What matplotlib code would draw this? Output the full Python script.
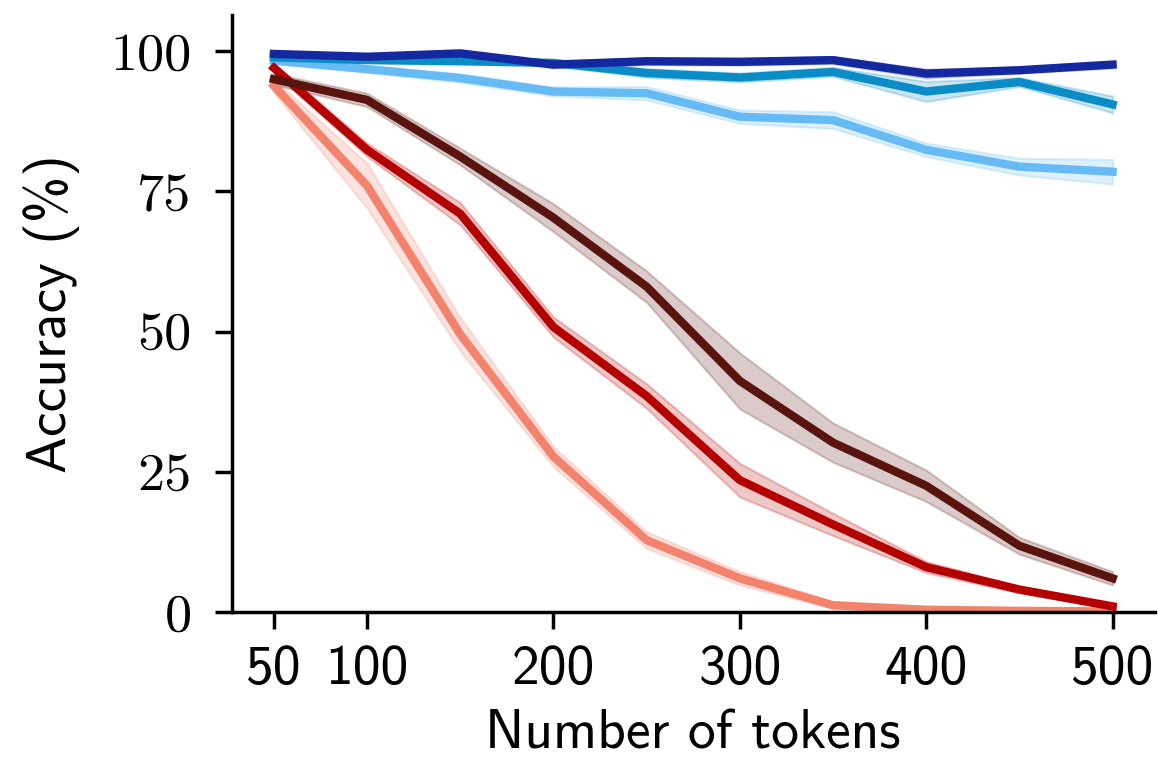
import os
import matplotlib
matplotlib.use("Agg")
import matplotlib.pyplot as plt
from matplotlib.font_manager import FontProperties
import numpy as np

fontdir = os.path.join(matplotlib.get_data_path(), 'fonts', 'ttf')
sans = os.path.join(fontdir, 'cmss10.ttf')
serif = os.path.join(fontdir, 'cmr10.ttf')

tokens = [50, 100, 150, 200, 250, 300, 350, 400, 450, 500]

dark_blue = [99.5, 99.0, 99.6, 97.6, 98.2, 98.1, 98.4, 96.0, 96.6, 97.6]
dark_blue_err = [0.5, 0.4, 0.5, 0.6, 0.6, 0.6, 0.6, 0.8, 0.5, 0.6]
mid_blue = [98.9, 98.4, 98.2, 97.9, 96.1, 95.3, 96.3, 92.8, 94.5, 90.5]
mid_blue_err = [0.4, 0.4, 0.5, 0.5, 0.8, 0.8, 0.8, 1.8, 0.8, 1.5]
light_blue = [98.3, 96.8, 95.2, 92.8, 92.5, 88.3, 87.7, 82.4, 79.4, 78.5]
light_blue_err = [0.5, 0.6, 0.8, 0.8, 1.2, 1.2, 1.5, 1.2, 1.5, 2.2]
brown = [95.0, 91.3, 81.2, 70.3, 58.0, 41.2, 30.2, 22.5, 11.8, 6.0]
brown_err = [1.0, 1.2, 1.5, 2.5, 2.8, 5.0, 3.5, 2.8, 1.5, 1.2]
red = [97.0, 82.4, 71.0, 50.8, 38.5, 23.5, 15.6, 8.0, 4.0, 1.0]
red_err = [0.8, 1.2, 2.0, 1.8, 2.2, 3.0, 2.0, 1.0, 0.6, 0.4]
salmon = [93.8, 76.0, 49.5, 27.7, 12.8, 6.0, 1.2, 0.4, 0.2, 0.1]
salmon_err = [1.2, 4.0, 3.0, 1.8, 1.5, 1.2, 0.6, 0.3, 0.2, 0.1]

xticks = [50, 100, 200, 300, 400, 500]
yticks = [0, 25, 50, 75, 100]

series = [
    (light_blue, light_blue_err, '#66bbf5'),
    (mid_blue, mid_blue_err, '#0a8cc6'),
    (dark_blue, dark_blue_err, '#1428a0'),
    (salmon, salmon_err, '#f4836e'),
    (red, red_err, '#b50000'),
    (brown, brown_err, '#5a140e'),
]

fig = plt.figure(figsize=(11.58, 7.62), dpi=100)
ax = fig.add_axes([0.2003, 0.1969, 0.7967, 0.7831])

x = np.array(tokens)
for vals, err, col in series:
    v = np.array(vals); e = np.array(err)
    ax.fill_between(x, v - e, v + e, color=col, alpha=0.22, linewidth=1.5,
                    edgecolor=col)
    ax.plot(x, v, color=col, linewidth=6, solid_joinstyle='round')

ax.set_xlim(27.5, 522.5)
ax.set_ylim(0, 106.4)
ax.spines['top'].set_visible(False)
ax.spines['right'].set_visible(False)
for s in ['left', 'bottom']:
    ax.spines[s].set_linewidth(2.5)

fp_sans = FontProperties(fname=sans, size=40)
fp_serif = FontProperties(fname=serif, size=39)

ax.set_xticks(xticks)
ax.set_xticklabels([str(t) for t in xticks], fontproperties=fp_sans)
ax.set_yticks(yticks)
ax.set_yticklabels([str(t) for t in yticks], fontproperties=fp_serif)
ax.tick_params(axis='both', length=12, width=2.5)
ax.tick_params(axis='y', pad=17)
ax.tick_params(axis='x', pad=12)

ax.set_xlabel('Number of tokens', fontproperties=fp_sans, labelpad=10)
ax.set_ylabel('Accuracy (%)', fontproperties=fp_sans, labelpad=22)

fig.savefig('out.png', dpi=100)
